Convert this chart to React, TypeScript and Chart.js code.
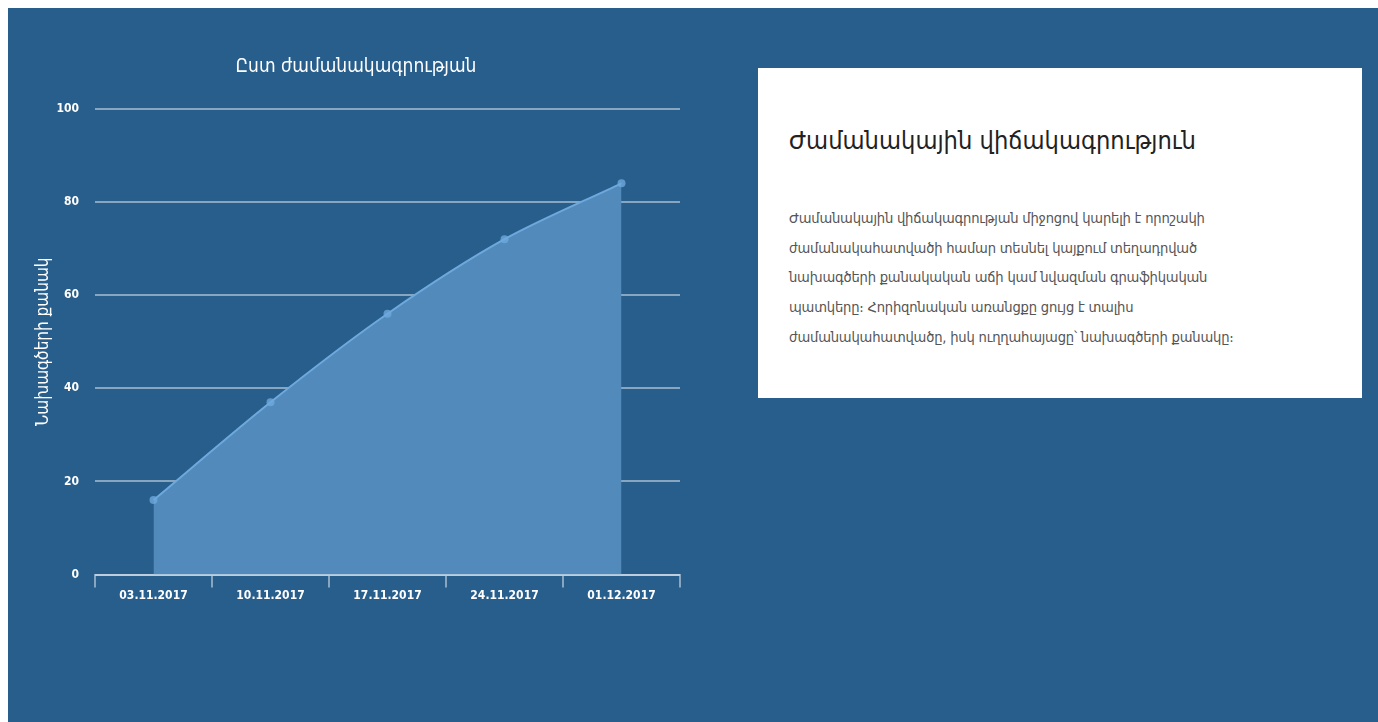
import React, { useEffect, useRef } from "react";
import { Chart, registerables } from "chart.js";

Chart.register(...registerables);

const categories = ["03.11.2017", "10.11.2017", "17.11.2017", "24.11.2017", "01.12.2017"];
const projectCounts = [16, 37, 56, 72, 84];
const yTickStep = 20;
const yMax = 100;
const chartTitle = "Ըստ ժամանակագրության";
const yAxisTitle = "Նախագծերի քանակ";
const panelHeading = "Ժամանակային վիճակագրություն";
const panelLines = [
  "Ժամանակային վիճակագրության միջոցով կարելի է որոշակի",
  "ժամանակահատվածի համար տեսնել կայքում տեղադրված",
  "նախագծերի քանակական աճի կամ նվազման գրաֆիկական",
  "պատկերը։ Հորիզոնական առանցքը ցույց է տալիս",
  "ժամանակահատվածը, իսկ ուղղահայացը՝ նախագծերի քանակը։",
];

const ARM = "'DejaVu Sans Condensed', 'DejaVu Sans', sans-serif";
const NUM = "'DejaVu Sans Condensed', sans-serif";
const GRID = "rgba(255,255,255,0.45)";

export default function App() {
  const ref = useRef<HTMLCanvasElement | null>(null);

  useEffect(() => {
    if (!ref.current) return;
    const chart = new Chart(ref.current, {
      type: "line",
      data: {
        labels: categories,
        datasets: [
          {
            label: yAxisTitle,
            data: projectCounts,
            borderColor: "#6ea9dd",
            backgroundColor: "#538abc",
            borderWidth: 2,
            fill: "origin",
            tension: 0.3,
            pointRadius: 4,
            pointBackgroundColor: "rgba(110,169,221,0.8)",
            pointBorderColor: "rgba(110,169,221,0.8)",
            pointBorderWidth: 0,
          },
        ],
      },
      options: {
        responsive: false,
        animation: false,
        layout: { padding: { left: 0, right: 2, top: 0, bottom: 0 } },
        plugins: {
          legend: { display: false },
          tooltip: { enabled: false },
          title: {
            display: true,
            text: chartTitle,
            color: "#ffffff",
            font: { family: ARM, size: 19, weight: "normal" },
            padding: { top: 10, bottom: 30 },
          },
        },
        scales: {
          x: {
            offset: true,
            grid: {
              offset: true,
              drawOnChartArea: false,
              drawTicks: true,
              tickLength: 13,
              color: GRID,
              lineWidth: 2,
            },
            border: { display: true, color: GRID, width: 2 },
            ticks: {
              color: "#ffffff",
              font: { family: NUM, size: 12, weight: "bold" },
              padding: 1,
              maxRotation: 0,
            },
          },
          y: {
            min: 0,
            max: yMax,
            afterFit: (scale: any) => {
              scale.width = 65;
            },
            grid: { drawTicks: false, color: GRID, lineWidth: 2 },
            border: { display: false },
            ticks: {
              stepSize: yTickStep,
              color: "#ffffff",
              font: { family: NUM, size: 12, weight: "bold" },
              padding: 16,
            },
            title: {
              display: true,
              text: yAxisTitle,
              color: "#ffffff",
              font: { family: ARM, size: 17 },
              padding: { top: 3, bottom: 3 },
            },
          },
        },
      },
    });
    return () => chart.destroy();
  }, []);

  return (
    <div
      style={{
        position: "fixed",
        left: 8,
        top: 8,
        right: 0,
        bottom: 0,
        background: "#285e8c",
        overflow: "hidden",
      }}
    >
      <canvas
        ref={ref}
        width={654}
        height={558}
        style={{ position: "absolute", left: 22, top: 38, width: 654, height: 558 }}
      />
      <div
        style={{
          position: "absolute",
          left: 750,
          top: 60,
          width: 604,
          height: 330,
          background: "#ffffff",
          boxSizing: "border-box",
          padding: "58px 0 0 31px",
          fontFamily: ARM,
        }}
      >
        <div style={{ fontSize: 25.2, color: "#222222", lineHeight: "30px", whiteSpace: "nowrap" }}>
          {panelHeading}
        </div>
        <div
          style={{
            marginTop: 47,
            fontSize: 14.6,
            color: "#555555",
            lineHeight: "29.7px",
            letterSpacing: "-0.2px",
            whiteSpace: "nowrap",
          }}
        >
          {panelLines.map((l, i) => (
            <div key={i}>{l}</div>
          ))}
        </div>
      </div>
    </div>
  );
}
